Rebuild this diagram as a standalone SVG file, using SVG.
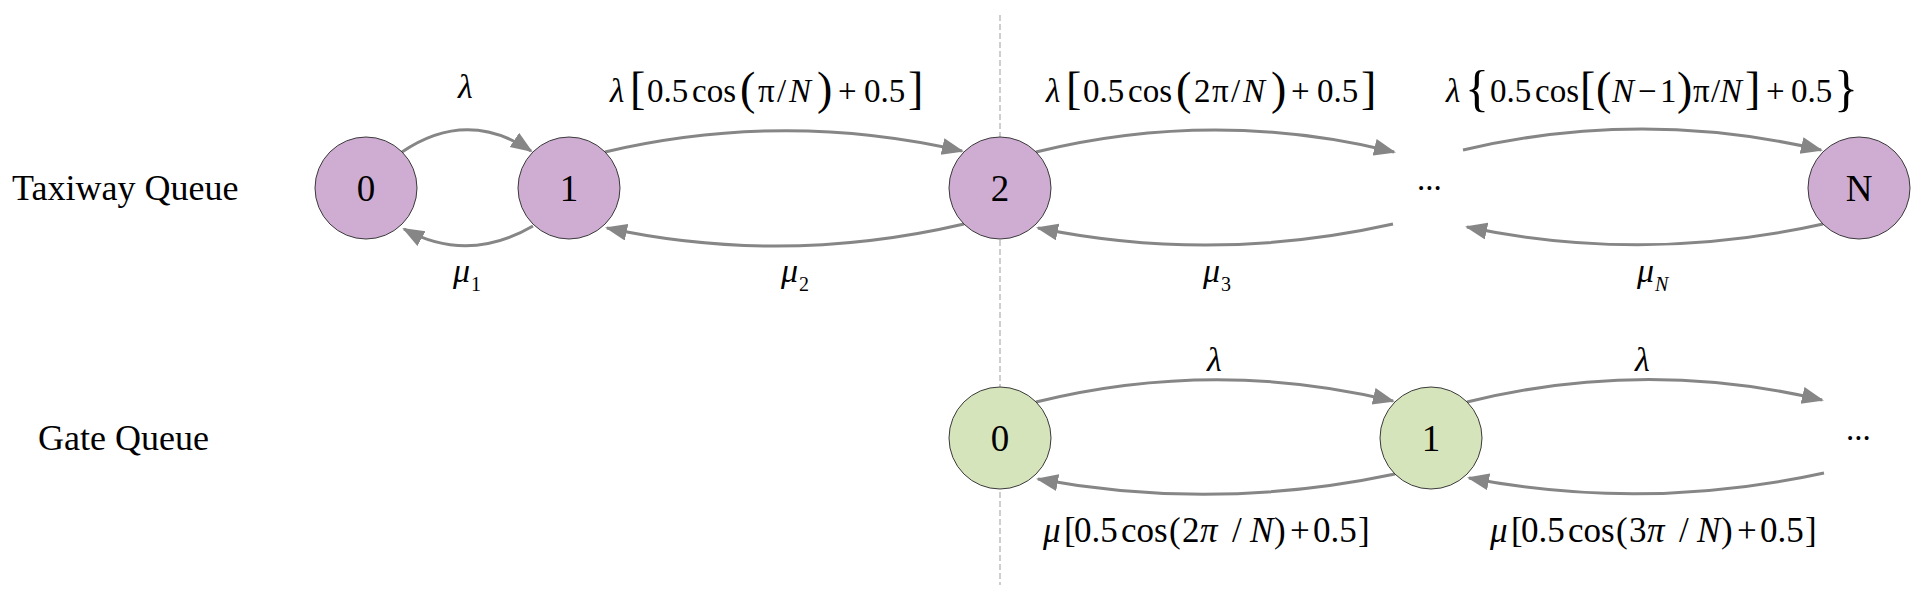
<svg xmlns="http://www.w3.org/2000/svg" width="1926" height="599" viewBox="0 0 1926 599">
<style>
text{font-family:"Liberation Serif","Times New Roman",serif;fill:#000}
.tx{font-size:36px}
.nl{font-size:37px;text-anchor:middle}
.m{font-size:33px}
.gm{font-size:35px}
.g{font-size:34px;font-style:italic}
.i{font-style:italic}
.br{font-size:46px}
.bc{font-size:50px}
.sb{font-size:20px}
.tq{fill:#CFADD3;stroke:#3a3a3a;stroke-width:1}
.gq{fill:#D6E4BC;stroke:#3a3a3a;stroke-width:1}
.arc{fill:none;stroke:#868686;stroke-width:3;marker-end:url(#ah)}
.div{stroke:#b4b4b4;stroke-width:1.3;stroke-dasharray:6 3}
</style>
<defs>
<marker id="ah" markerUnits="userSpaceOnUse" markerWidth="24" markerHeight="18" refX="20" refY="8.5" orient="auto">
<path d="M0,0 L22,8.5 L0,17 z" fill="#868686"/>
</marker>
</defs>
<rect width="1926" height="599" fill="#fff"/>
<line class="div" x1="1000" y1="15" x2="1000" y2="585"/>
<g id="row-labels">
<text class="tx" x="12" y="200">Taxiway Queue</text>
<text class="tx" x="38" y="450">Gate Queue</text>
</g>
<g id="connectors">
<path class="arc" d="M402,152 Q467,108 531,151"/>
<path class="arc" d="M533,226 Q468,264 404,229"/>
<path class="arc" d="M605,152 Q784,110 962,151"/>
<path class="arc" d="M964,224 Q784,266 607,228"/>
<path class="arc" d="M1036,152 Q1215,108 1394,152"/>
<path class="arc" d="M1393,224 Q1214,264 1038,228"/>
<path class="arc" d="M1463,150 Q1642,108 1821,150"/>
<path class="arc" d="M1823,224 Q1644,264 1467,227"/>
<path class="arc" d="M1036,402 Q1215,358 1393,401"/>
<path class="arc" d="M1395,474 Q1215,512 1038,479"/>
<path class="arc" d="M1467,402 Q1645,358 1822,400"/>
<path class="arc" d="M1824,473 Q1645,512 1469,478"/>
</g>
<g id="t0"><circle class="tq" cx="366" cy="188" r="51"/><text class="nl" x="366" y="200.5">0</text></g>
<g id="t1"><circle class="tq" cx="569" cy="188" r="51"/><text class="nl" x="569" y="200.5">1</text></g>
<g id="t2"><circle class="tq" cx="1000" cy="188" r="51"/><text class="nl" x="1000" y="200.5">2</text></g>
<g id="tdots"><text class="m" x="1417" y="190">...</text></g>
<g id="tN"><circle class="tq" cx="1859" cy="188" r="51"/><text class="nl" x="1859" y="200.5">N</text></g>
<g id="g0"><circle class="gq" cx="1000" cy="438" r="51"/><text class="nl" x="1000" y="450.5">0</text></g>
<g id="g1"><circle class="gq" cx="1431" cy="438" r="51"/><text class="nl" x="1431" y="450.5">1</text></g>
<g id="gdots"><text class="m" x="1846" y="440">...</text></g>
<g id="edge-labels">
<text class="g" x="458" y="98">λ</text>
<text class="m"><tspan class="i" x="610" y="102">λ</tspan><tspan class="br" x="630" y="104">[</tspan><tspan x="647" y="102">0.5</tspan><tspan x="692">cos</tspan><tspan class="br" x="740" y="104">(</tspan><tspan x="758" y="102">π</tspan><tspan x="777">/</tspan><tspan class="i" x="789">N</tspan><tspan class="br" x="817" y="104">)</tspan><tspan x="838" y="102">+</tspan><tspan x="864">0.5</tspan><tspan class="br" x="908" y="104">]</tspan></text>
<text class="m"><tspan class="i" x="1046" y="102">λ</tspan><tspan class="br" x="1066" y="104">[</tspan><tspan x="1083" y="102">0.5</tspan><tspan x="1128">cos</tspan><tspan class="br" x="1176" y="104">(</tspan><tspan x="1194" y="102">2</tspan><tspan x="1212">π</tspan><tspan x="1231">/</tspan><tspan class="i" x="1243">N</tspan><tspan class="br" x="1271" y="104">)</tspan><tspan x="1291" y="102">+</tspan><tspan x="1317">0.5</tspan><tspan class="br" x="1361" y="104">]</tspan></text>
<text class="m"><tspan class="i" x="1446" y="102">λ</tspan><tspan class="bc" x="1465" y="105">{</tspan><tspan x="1490" y="102">0.5</tspan><tspan x="1535">cos</tspan><tspan class="br" x="1580" y="104">[</tspan><tspan class="br" x="1596" y="104">(</tspan><tspan class="i" x="1612" y="102">N</tspan><tspan x="1638">−</tspan><tspan x="1660">1</tspan><tspan class="br" x="1677" y="104">)</tspan><tspan x="1693" y="102">π</tspan><tspan x="1711">/</tspan><tspan class="i" x="1720">N</tspan><tspan class="br" x="1745" y="104">]</tspan><tspan x="1766" y="102">+</tspan><tspan x="1791">0.5</tspan><tspan class="bc" x="1834" y="105">}</tspan></text>
<text class="g" x="453" y="282">μ<tspan class="sb" font-style="normal" x="471" y="291">1</tspan></text>
<text class="g" x="781" y="282">μ<tspan class="sb" font-style="normal" x="799" y="291">2</tspan></text>
<text class="g" x="1203" y="282">μ<tspan class="sb" font-style="normal" x="1221" y="291">3</tspan></text>
<text class="g" x="1637" y="282">μ<tspan class="sb" x="1655" y="291">N</tspan></text>
<text class="g" x="1207" y="371">λ</text>
<text class="g" x="1635" y="371">λ</text>
<text class="gm" y="542"><tspan class="i" x="1043">μ</tspan><tspan x="1064">[</tspan><tspan x="1074">0.5</tspan><tspan x="1121">cos</tspan><tspan x="1169">(</tspan><tspan x="1182">2</tspan><tspan class="i" x="1200">π</tspan><tspan x="1232">/</tspan><tspan class="i" x="1250">N</tspan><tspan x="1274">)</tspan><tspan x="1290">+</tspan><tspan x="1313">0.5</tspan><tspan x="1358">]</tspan></text>
<text class="gm" y="542"><tspan class="i" x="1490">μ</tspan><tspan x="1511">[</tspan><tspan x="1521">0.5</tspan><tspan x="1568">cos</tspan><tspan x="1616">(</tspan><tspan x="1629">3</tspan><tspan class="i" x="1647">π</tspan><tspan x="1679">/</tspan><tspan class="i" x="1697">N</tspan><tspan x="1721">)</tspan><tspan x="1737">+</tspan><tspan x="1760">0.5</tspan><tspan x="1805">]</tspan></text>
</g>
</svg>
